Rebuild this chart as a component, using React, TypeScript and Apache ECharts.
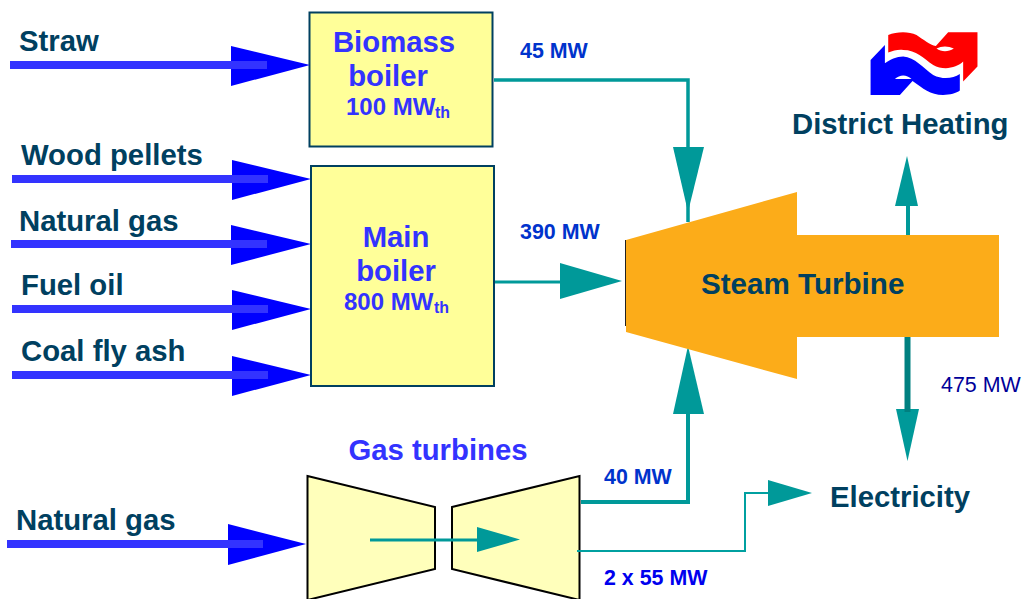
import React, { useEffect, useRef } from "react";
import * as echarts from "echarts";

const fuels = ["Straw", "Wood pellets", "Natural gas", "Fuel oil", "Coal fly ash", "Natural gas"];
const flows = ["45 MW", "390 MW", "40 MW", "2 x 55 MW"];
const outputs = ["District Heating", "Electricity", "475 MW"];

const DARK = "#004060";
const BLUE = "#3333ff";
const HEAD = "#0000ff";
const TEAL = "#009999";
const FLOW = "#0033cc";
const YEL = "#ffff99";
const FONT = "'Liberation Sans', Arial, sans-serif";
const BIG = 29.3;
const MID = 21.4;

const RED_D = "M325 105 C350 95 385 93 410 105 C430 118 450 135 468 138 L505 97 L593 97 L593 200 L550 245 L550 185 C530 205 490 212 460 195 C430 175 410 150 370 150 C355 148 340 152 325 158 Z";
const BLUE_D = "M315 135 L272 180 L272 285 L360 285 L398 243 C430 265 450 285 490 285 C510 285 530 280 540 272 L540 222 C520 235 490 240 460 225 C430 205 405 172 370 170 C350 170 330 180 315 190 Z";
const LENS1_D = "M470 146 C485 138 505 138 522 146 C505 157 485 157 470 146 Z";
const LENS2_D = "M345 237 C360 223 380 223 395 237 Z";
echarts.graphic.registerShape("logoRed", echarts.graphic.extendPath(RED_D, {}));
echarts.graphic.registerShape("logoBlue", echarts.graphic.extendPath(BLUE_D, {}));
echarts.graphic.registerShape("logoLens1", echarts.graphic.extendPath(LENS1_D, {}));
echarts.graphic.registerShape("logoLens2", echarts.graphic.extendPath(LENS2_D, {}));

const txt = (text: string, x: number, y: number, size: number, fill: string, align = "left", weight = "bold") => ({
  type: "text", x, y, z: 20,
  style: { text, fontFamily: FONT, fontSize: size, fontWeight: weight, fill, textAlign: align, textVerticalAlign: "middle" },
});
const poly = (pts: number[][], fill: string, z = 5, extra: any = {}) => ({
  type: "polygon", z, shape: { points: pts }, style: { fill, ...extra },
});
const pl = (pts: number[][], stroke: string, lineWidth: number, z = 4) => ({
  type: "polyline", z, shape: { points: pts }, style: { stroke, lineWidth, fill: "none" },
});
const feed = (x0: number, y: number, hx: number, tip: number, top: number, bot: number, lineEnd: number) => [
  poly([[hx, top], [tip, y], [hx, bot]], HEAD, 5),
  { type: "line", z: 6, shape: { x1: x0, y1: y, x2: lineEnd, y2: y }, style: { stroke: BLUE, lineWidth: 8 } },
];
const logo = (type: string, fill: string, z: number) => ({
  type, x: 780, y: 0, scaleX: 1 / 3, scaleY: 1 / 3, z, style: { fill },
});

export default function App() {
  const ref = useRef<HTMLDivElement>(null);
  useEffect(() => {
    const chart = echarts.init(ref.current!, null, { renderer: "svg" });
    const elements: any[] = [
      // feed arrows
      ...feed(10, 65, 231, 310, 46, 86, 267),
      ...feed(12, 179, 232, 311, 160, 200, 268),
      ...feed(11, 244, 231, 311, 225, 265, 267),
      ...feed(12, 309, 232, 311, 290, 330, 268),
      ...feed(12, 375, 232, 311, 356, 396, 268),
      ...feed(7, 544, 228, 306, 524, 565, 263),
      // boilers
      { type: "rect", z: 3, shape: { x: 309.5, y: 12.5, width: 183, height: 134 }, style: { fill: YEL, stroke: DARK, lineWidth: 2 } },
      { type: "rect", z: 3, shape: { x: 311, y: 166, width: 183, height: 220 }, style: { fill: YEL, stroke: DARK, lineWidth: 2 } },
      // gas turbines
      poly([[307.5, 476], [435, 507], [435, 569], [307.5, 600]], "#ffffbb", 3, { stroke: "#000", lineWidth: 2 }),
      poly([[452, 507], [579.5, 476], [579.5, 600], [452, 569]], "#ffffbb", 3, { stroke: "#000", lineWidth: 2 }),
      pl([[370, 540], [480, 540]], TEAL, 3, 6),
      poly([[477, 527], [520, 539.5], [477, 552]], TEAL, 6),
      // teal flows
      pl([[494, 80], [688, 80], [688, 222]], TEAL, 3.5),
      poly([[673, 147], [704, 147], [688, 212]], TEAL),
      pl([[495, 282], [570, 282]], TEAL, 3),
      poly([[560, 263], [622, 281], [560, 299]], TEAL),
      pl([[581, 502], [688, 502], [688, 400]], TEAL, 4),
      poly([[688, 346], [673, 414], [704, 414]], TEAL),
      pl([[577, 551], [745, 551], [745, 493], [772, 493]], "#00a0a0", 2),
      poly([[768, 480], [812, 493], [768, 506]], TEAL),
      pl([[908, 240], [908, 200]], TEAL, 4),
      poly([[907, 156], [895, 206], [918, 206]], TEAL),
      poly([[896, 409], [919, 409], [907.5, 461]], TEAL, 4),
      pl([[907.5, 330], [907.5, 412]], "#008080", 6, 5),
      // steam turbine
      poly([[626, 240], [797, 192], [797, 235], [999, 235], [999, 337], [797, 337], [797, 379], [626, 332]], "#fcac19", 8),
      { type: "line", z: 9, shape: { x1: 625.5, y1: 240, x2: 625.5, y2: 326 }, style: { stroke: "#222", lineWidth: 1 } },
      // logo
      logo("logoRed", "#ff0000", 10),
      logo("logoBlue", "#0000ff", 10),
      logo("logoLens1", "#ffffff", 11),
      logo("logoLens2", "#ffffff", 11),
      // texts
      txt(fuels[0], 19, 40, BIG, DARK),
      txt(fuels[1], 21, 154, BIG, DARK),
      txt(fuels[2], 19, 220, BIG, DARK),
      txt(fuels[3], 21, 284, BIG, DARK),
      txt(fuels[4], 21, 350, BIG, DARK),
      txt(fuels[5], 16, 519, BIG, DARK),
      txt("Biomass", 394, 41, BIG, BLUE, "center"),
      txt("boiler", 388, 75, BIG, BLUE, "center"),
      txt("100 MW", 346, 106, 24, BLUE),
      txt("th", 435, 112, 16, BLUE),
      txt("Main", 396, 236, BIG, BLUE, "center"),
      txt("boiler", 396, 270, BIG, BLUE, "center"),
      txt("800 MW", 344, 301, 24, BLUE),
      txt("th", 434, 307, 16, BLUE),
      txt("Gas turbines", 438, 449, BIG, BLUE, "center"),
      txt(flows[0], 520, 50.5, MID, FLOW),
      txt(flows[1], 520, 232, MID, FLOW),
      txt(flows[2], 604, 477, MID, FLOW),
      txt(flows[3], 604, 578, MID, "#0000ee"),
      txt(outputs[0], 792, 123, BIG, DARK),
      txt(outputs[1], 830, 496, BIG, DARK),
      txt(outputs[2], 941, 385, MID, "#000099", "left", "normal"),
      txt("Steam Turbine", 701, 283, 29.6, DARK),
    ];
    chart.setOption({ animation: false, graphic: { elements } });
    return () => chart.dispose();
  }, []);
  return (
    <div ref={ref} style={{ position: "fixed", left: 0, top: 0, width: 1023, height: 599, background: "#fff" }} />
  );
}
